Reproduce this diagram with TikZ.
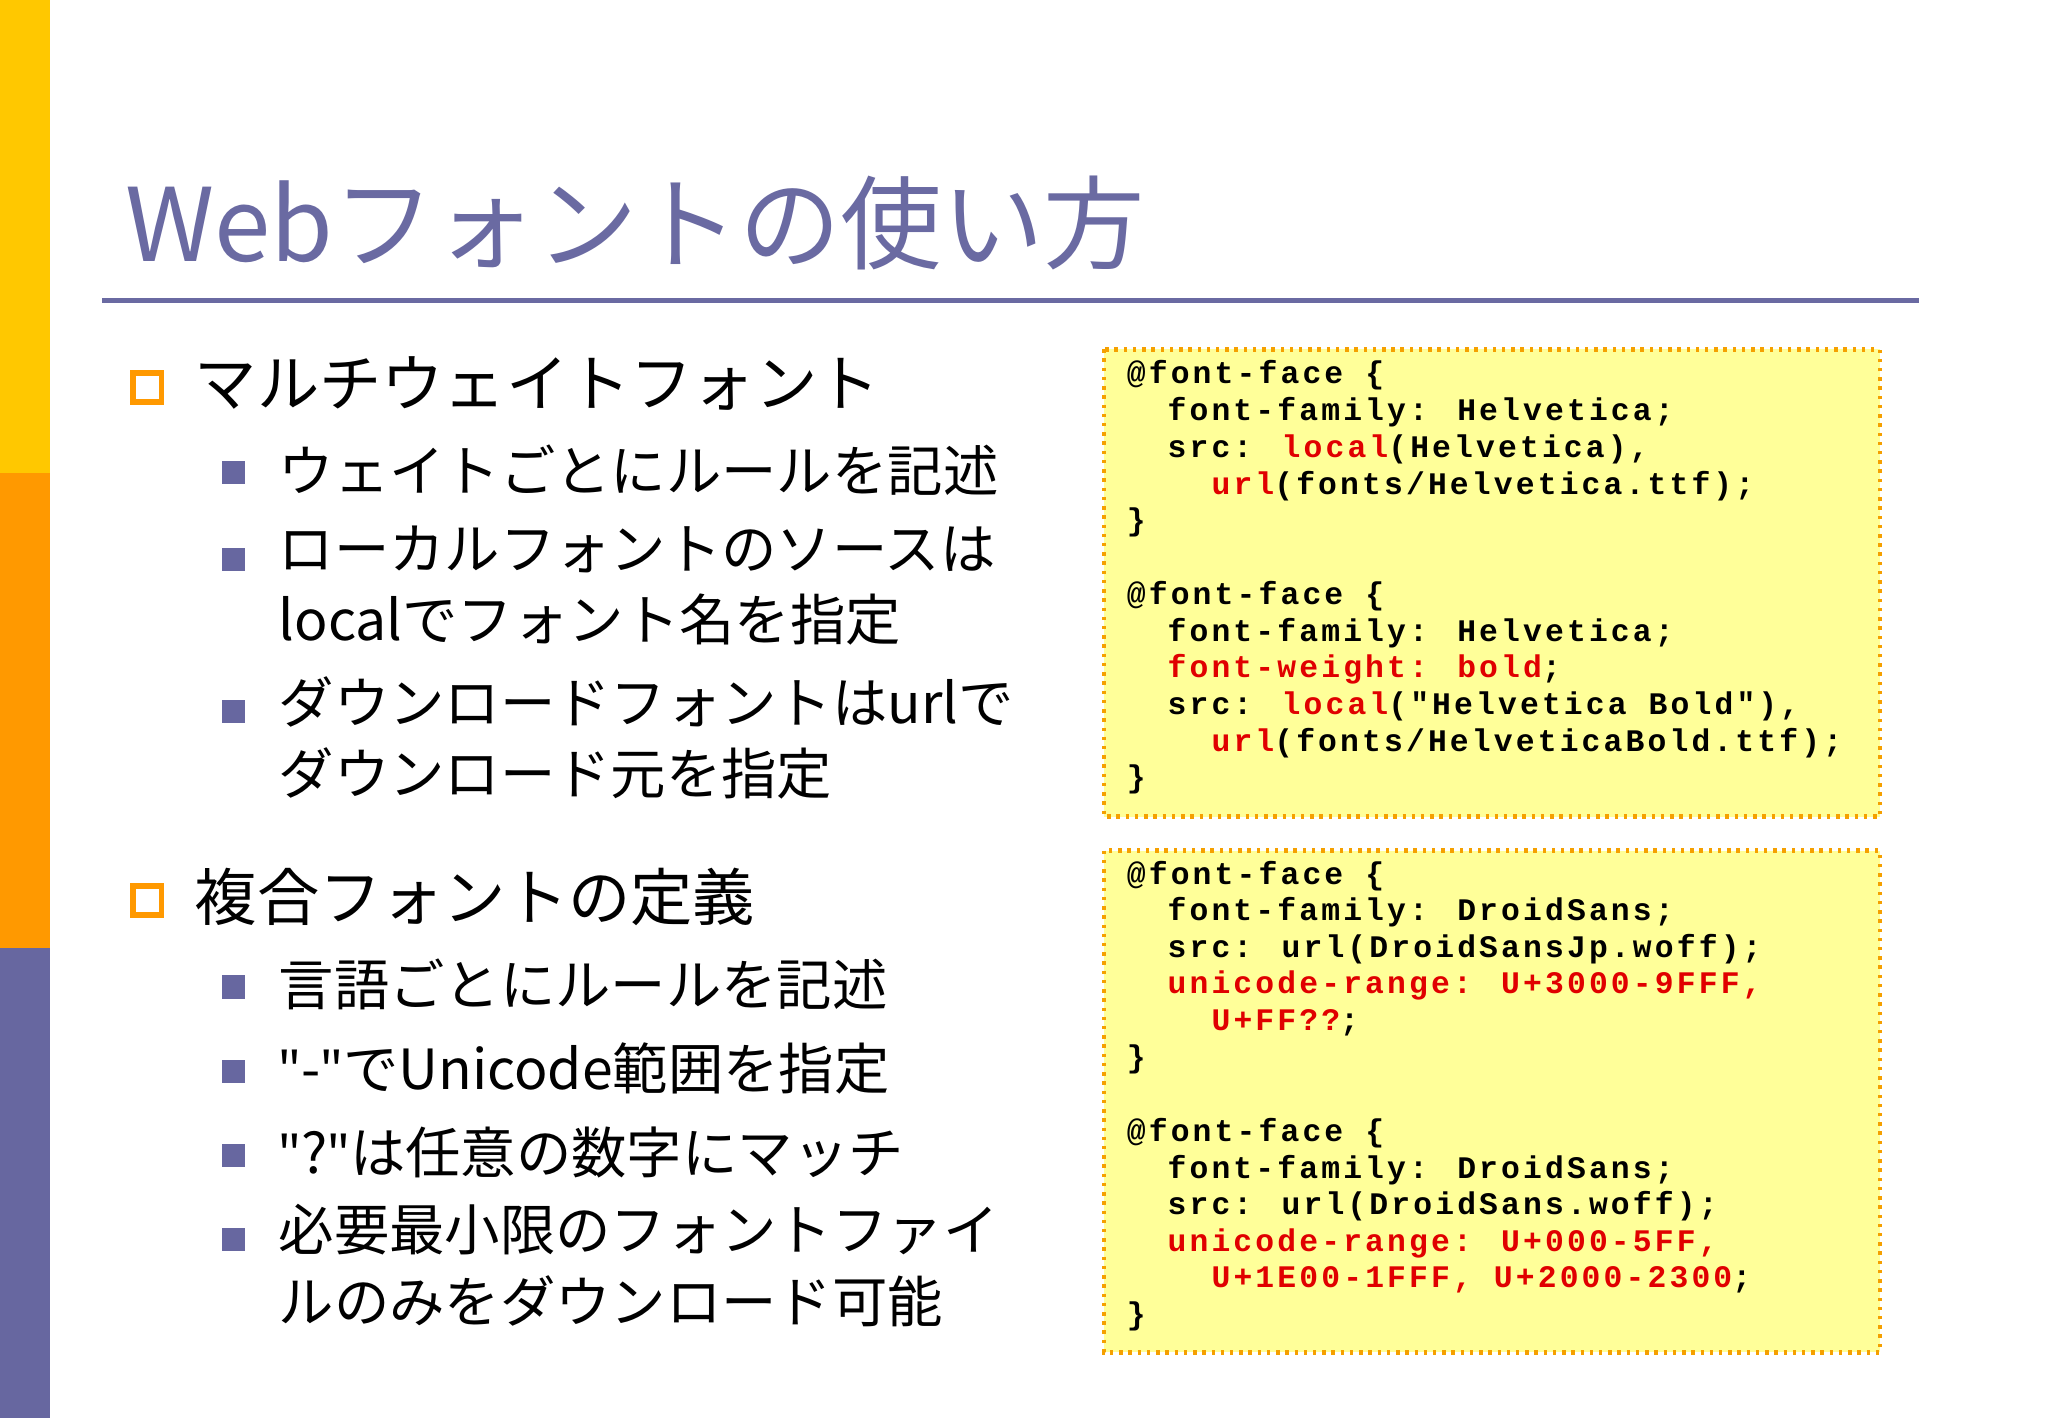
\documentclass[tikz,border=0pt]{standalone}
\usepackage{fontspec}
\setmainfont{Noto Sans CJK JP}
\newfontfamily\codefont{Liberation Mono}[LetterSpace=10,BoldFont={Liberation Mono Bold}]
\newfontfamily\qfont{Noto Sans}
\definecolor{ttl}{HTML}{6A6AA2}
\definecolor{barY}{HTML}{FFC800}
\definecolor{barO}{HTML}{FF9900}
\definecolor{barB}{HTML}{6767A0}
\definecolor{codebg}{HTML}{FFFF99}
\definecolor{codered}{HTML}{E00000}
\definecolor{dotor}{HTML}{F5A000}
\newcommand{\rd}[1]{\textcolor{codered}{#1}}
\newcommand{\ind}[1]{\hphantom{#1}}
\newcommand{\qq}{\symbol{34}}
\newcommand{\jq}{{\qfont\symbol{34}}}
\tikzset{
  lvA/.style={anchor=west,font=\fontsize{27}{30}\selectfont,inner sep=0pt},
  lvB/.style={anchor=west,font=\fontsize{24}{31}\selectfont,inner sep=0pt,align=left},
  code/.style={anchor=west,font=\codefont\bfseries\fontsize{13.6}{15}\selectfont,inner sep=0pt},
  codebox/.style={fill=codebg,draw=dotor,line width=2pt,dash pattern=on 1.5pt off 2.5pt},
  sqA/.style={draw=barO,fill=white,line width=2.5pt,minimum size=22*0.567pt,inner sep=0pt},
  sqB/.style={fill=barB,minimum size=18*0.567pt,inner sep=0pt}
}
\begin{document}
\begin{tikzpicture}[x=0.02cm,y=-0.02cm]
\useasboundingbox (0,0) rectangle (1560,1080);
\fill[white] (0,0) rectangle (1560,1080);
\fill[barY] (0,0) rectangle (38,360);
\fill[barO] (0,360) rectangle (38,722);
\fill[barB] (0,722) rectangle (38,1080);
\node[anchor=west,inner sep=0pt,text=ttl,font=\fontsize{44}{50}\selectfont] (title) at (95,170) {Webフォントの使い方};
\coordinate (l1) at (78,229); \coordinate (l2) at (1462,229);
\draw[ttl,line width=2pt] (l1) -- (l2);
% level 1
\node[sqA] (s1) at (112,295) {};
\node[lvA] (t1) at (148,292) {マルチウェイトフォント};
\node[sqB] (b1) at (178,360) {};
\node[lvB] (u1) at (212,358) {ウェイトごとにルールを記述};
\node[sqB] (b2) at (178,426) {};
\node[lvB,anchor=north west] (u2) at (212,400) {ローカルフォントのソースは\\localでフォント名を指定};
\node[sqB] (b3) at (178,542) {};
\node[lvB,anchor=north west] (u3) at (212,515) {ダウンロードフォントはurlで\\ダウンロード元を指定};
\node[sqA] (s2) at (112,686) {};
\node[lvA] (t2) at (148,683) {複合フォントの定義};
\node[sqB] (b4) at (178,752) {};
\node[lvB] (u4) at (212,750) {言語ごとにルールを記述};
\node[sqB] (b5) at (178,816) {};
\node[lvB] (u5) at (212,814) {\jq-\jq でUnicode範囲を指定};
\node[sqB] (b6) at (178,880) {};
\node[lvB] (u6) at (212,878) {\jq?\jq は任意の数字にマッチ};
\node[sqB] (b7) at (178,944) {};
\node[lvB,anchor=north west] (u7) at (212,917) {必要最小限のフォントファイ\\ルのみをダウンロード可能};
% code boxes
\draw[codebox] (841,266) rectangle (1432,622);
\draw[codebox] (841,648) rectangle (1432,1030);
\begin{scope}[every node/.style={code}]
\node (c1) at (858,286) {@font-face \{};
\node (c2) at (858,314) {\ind{xx}font-family: Helvetica;};
\node (c3) at (858,342) {\ind{xx}src: \rd{local}(Helvetica),};
\node (c4) at (858,370) {\ind{xxxx}\rd{url}(fonts/Helvetica.ttf);};
\node (c5) at (858,398) {\}};
\node (c6) at (858,454) {@font-face \{};
\node (c7) at (858,482) {\ind{xx}font-family: Helvetica;};
\node (c8) at (858,510) {\ind{xx}\rd{font-weight: bold};};
\node (c9) at (858,538) {\ind{xx}src: \rd{local}(\qq Helvetica Bold\qq),};
\node (c10) at (858,566) {\ind{xxxx}\rd{url}(fonts/HelveticaBold.ttf);};
\node (c11) at (858,594) {\}};
\node (d1) at (858,667) {@font-face \{};
\node (d2) at (858,695) {\ind{xx}font-family: DroidSans;};
\node (d3) at (858,723) {\ind{xx}src: url(DroidSansJp.woff);};
\node (d4) at (858,751) {\ind{xx}\rd{unicode-range: U+3000-9FFF,}};
\node (d5) at (858,779) {\ind{xxxx}\rd{U+FF??};};
\node (d6) at (858,807) {\}};
\node (d7) at (858,863) {@font-face \{};
\node (d8) at (858,891) {\ind{xx}font-family: DroidSans;};
\node (d9) at (858,919) {\ind{xx}src: url(DroidSans.woff);};
\node (d10) at (858,947) {\ind{xx}\rd{unicode-range: U+000-5FF,}};
\node (d11) at (858,975) {\ind{xxxx}\rd{U+1E00-1FFF, U+2000-2300};};
\node (d12) at (858,1003) {\}};
\end{scope}
\end{tikzpicture}
\end{document}
